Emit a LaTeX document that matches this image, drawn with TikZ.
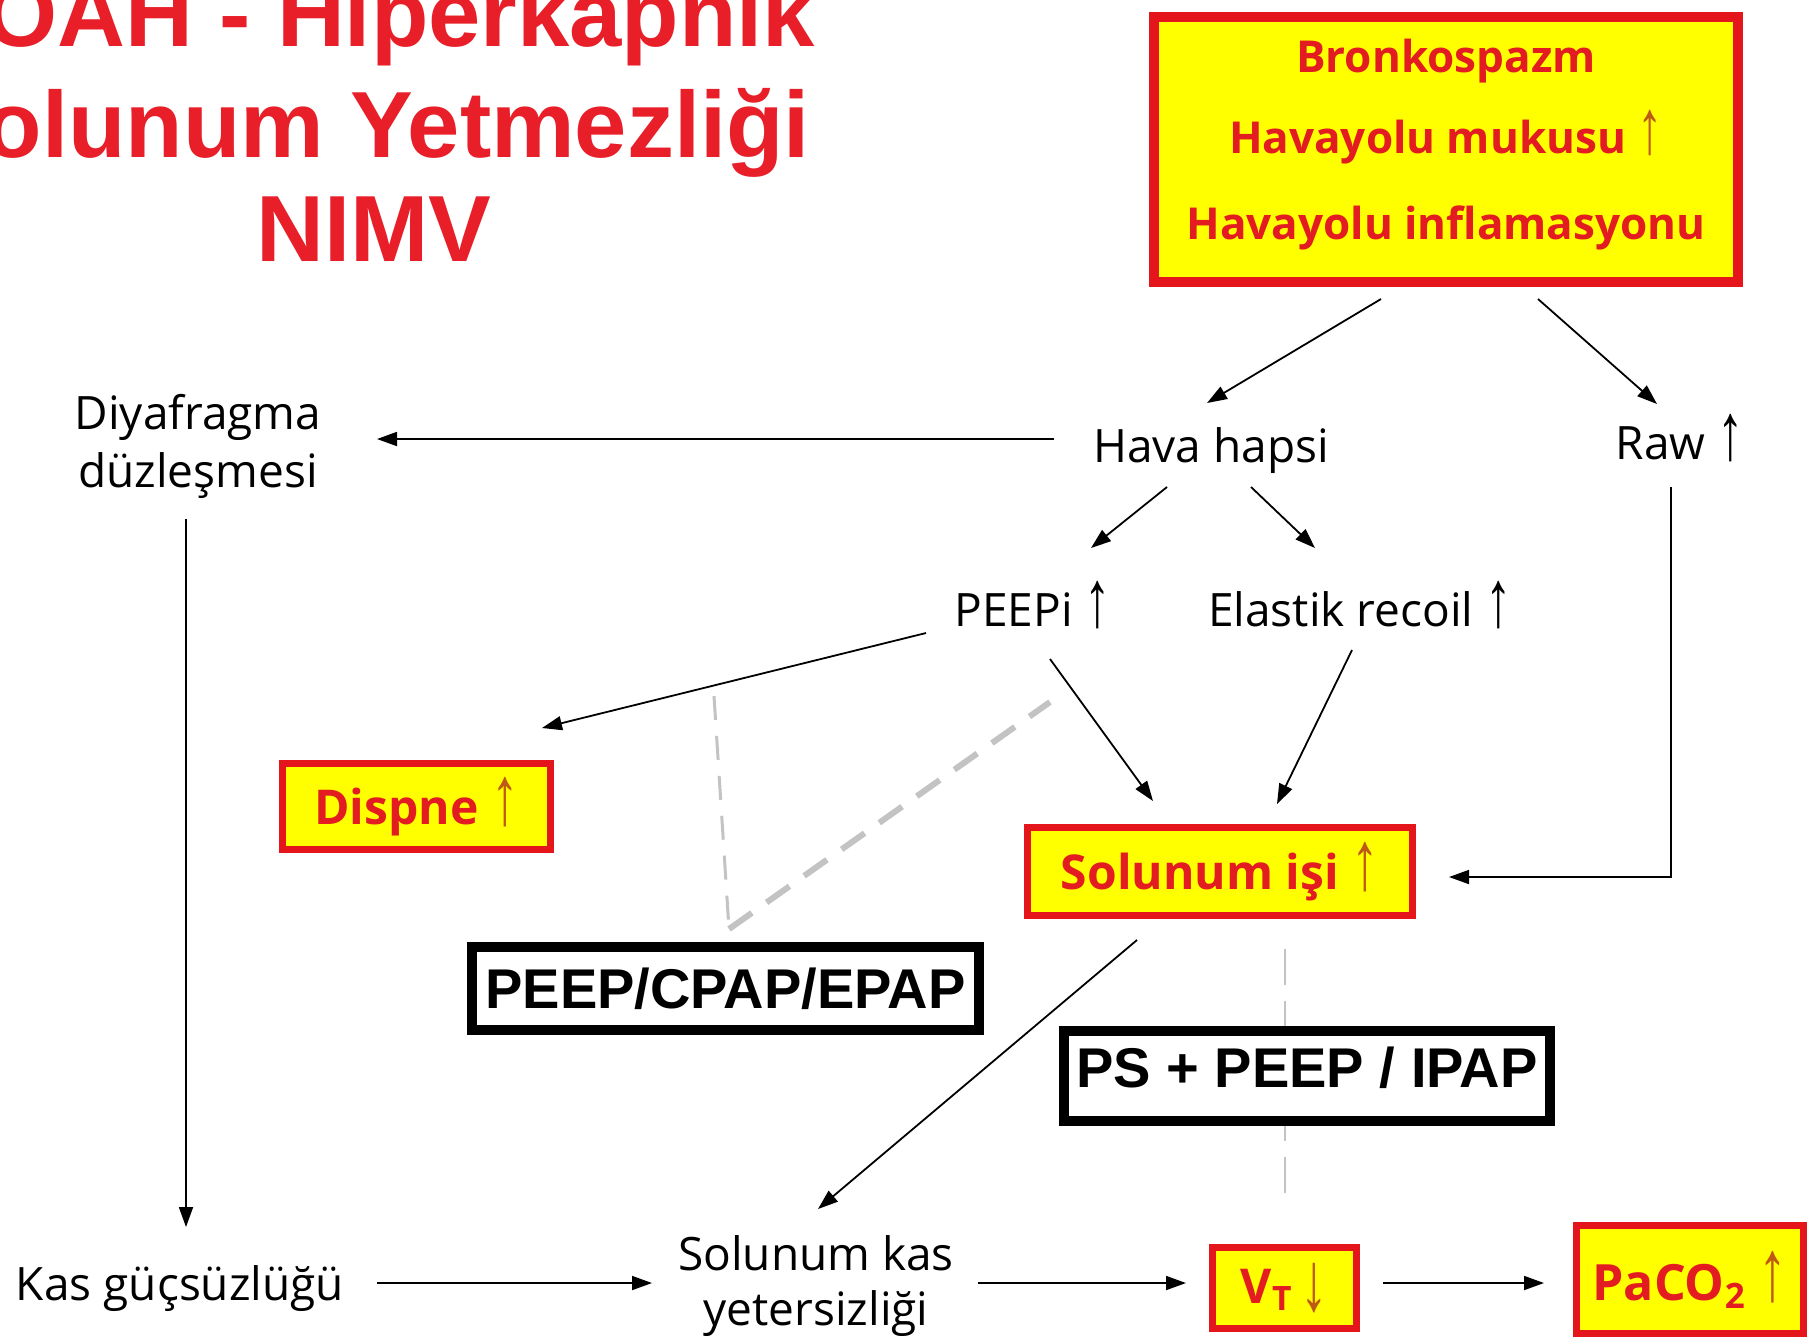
\documentclass[tikz,border=0pt]{standalone}
\usepackage{fontspec}
\usepackage{graphicx}
\setmainfont{Open Sans}
\newfontfamily\titlefont{Liberation Sans}
\newfontfamily\arrowfont{Liberation Sans}
\usetikzlibrary{arrows.meta,calc}
\definecolor{ylw}{RGB}{255,255,0}
\definecolor{bred}{RGB}{228,22,28}
\definecolor{tred}{RGB}{226,28,32}
\definecolor{ttl}{RGB}{232,30,40}
\definecolor{arrc}{RGB}{190,90,20}
\definecolor{dgrey}{RGB}{195,195,195}
\newcommand{\myup}{\scalebox{1.15}[1.75]{\arrowfont\char"2191}}
\newcommand{\mydown}{\raisebox{-0.15em}{\scalebox{1.15}[1.75]{\arrowfont\char"2193}}}
\tikzset{
  redbox/.style={draw=bred, fill=ylw, inner sep=0pt, line width=3.5pt, text=tred,
    font=\bfseries\fontsize{24}{28}\selectfont},
  redtxt/.style={inner sep=0pt, text=tred, font=\bfseries\fontsize{22}{26}\selectfont},
  blkbox/.style={draw=black, fill=white, line width=5pt, inner sep=0pt,
    font=\titlefont\bfseries\fontsize{28}{32}\selectfont},
  blktxt/.style={inner sep=0pt, font=\titlefont\bfseries\fontsize{28}{32}\selectfont},
  txt/.style={inner sep=0pt, font=\fontsize{23}{29}\selectfont, align=center},
  arr/.style={-{Triangle[length=10pt,width=7pt]}, line width=0.9pt},
  ttlstyle/.style={inner sep=0pt, text=ttl, font=\titlefont\bfseries\fontsize{47}{54}\selectfont, anchor=base},
  dsh/.style={dgrey}
}
\begin{document}
\begin{tikzpicture}[x=0.5pt,y=-0.5pt]
\useasboundingbox (0,0) rectangle (1820,1341);
\fill[white] (0,0) rectangle (1820,1341);

% title
\node[ttlstyle] (t1) at (366,46) {KOAH - Hiperkapnik};
\node[ttlstyle] (t2) at (366,157) {Solunum Yetmezliği};
\node[ttlstyle] (t3) at (374,261) {NIMV};

% dashed decoration
\draw[dsh, line width=1.5pt, dash pattern=on 12pt off 8pt] (714,696) -- (729,929);
\draw[dsh, line width=3pt, dash pattern=on 14pt off 9pt] (729,929) -- (1050,702);
\draw[dsh, line width=1pt, dash pattern=on 18pt off 8pt] (1285,949) -- (1285,1207);

% top box
\node[redbox, line width=5pt, minimum width=292pt, minimum height=132.5pt] (bronk) at (1446,149.5) {};
\node[redtxt, anchor=base] (bronk1) at (1446,72) {Bronkospazm};
\node[redtxt, anchor=base] (bronk2) at (1446,153) {Havayolu mukusu {\color{arrc}\myup}};
\node[redtxt, anchor=base] (bronk3) at (1446,239) {Havayolu inflamasyonu};

% plain text nodes
\node[txt, anchor=base] (hava) at (1211,462) {Hava hapsi};
\node[txt, anchor=base] (raw) at (1680,459) {Raw \myup};
\node[txt] (diyaf) at (198,446) {Diyafragma\\düzleşmesi};
\node[txt, anchor=base] (peepi) at (1033,626) {PEEPi \myup};
\node[txt, anchor=base] (elastik) at (1360,626) {Elastik recoil \myup};
\node[txt, anchor=base] (kas) at (180,1300) {Kas güçsüzlüğü};
\node[txt, font=\fontsize{23}{27.5}\selectfont] (solkas) at (816,1286) {Solunum kas\\yetersizliği};

% red boxes
\node[redbox, minimum width=134pt, minimum height=43pt] (dispne) at (416.5,806.5) {Dispne {\color{arrc}\myup}};
\node[redbox, minimum width=192.5pt, minimum height=44pt] (solis) at (1220,871.5) {Solunum işi {\color{arrc}\myup}};
\node[redbox, minimum width=72pt, minimum height=40.5pt] (vt) at (1284.5,1288) {V\textsubscript{T}\,{\color{arrc}\mydown}};
\node[redbox, minimum width=113.5pt, minimum height=54pt, font=\bfseries\fontsize{25}{29}\selectfont] (paco) at (1690,1279.5) {PaCO\textsubscript{2} {\color{arrc}\myup}};

% black boxes
\node[blkbox, minimum width=253.5pt, minimum height=41.5pt] (peepbox) at (725.5,988.5) {PEEP/CPAP/EPAP};
\node[blkbox, minimum width=243pt, minimum height=45pt] (psbox) at (1307,1076) {};
\node[blktxt] (pstxt) at (1307,1068) {PS + PEEP / IPAP};

% connectors
\draw[arr] ($(bronk)+(-65,149.5)$) -- ($(hava.base)+(-4,-59)$);
\draw[arr] ($(bronk)+(92,149.5)$) -- ($(raw.base)+(-23,-55)$);
\draw[arr] ($(hava.base)+(-157,-23)$) -- ($(diyaf)+(179,-7)$);
\draw[arr] ($(hava.base)+(-44,25)$) -- ($(peepi.base)+(58,-78)$);
\draw[arr] ($(hava.base)+(40,25)$) -- ($(elastik.base)+(-45,-78)$);
\draw[arr] ($(peepi.base)+(-107,7)$) -- ($(dispne)+(125.5,-78.5)$);
\draw[arr] ($(peepi.base)+(17,33)$) -- ($(solis)+(-67,-70.5)$);
\draw[arr] ($(elastik.base)+(-8,24)$) -- ($(solis)+(57,-67.5)$);
\draw[arr] ($(raw.base)+(-9,28)$) |- ($(solis)+(229,5.5)$);
\draw[arr] ($(diyaf)+(-12,73)$) -- ($(kas.base)+(6,-73)$);
\draw[arr] ($(solis)+(-83,68.5)$) -- ($(solkas)+(2,-77)$);
\draw[arr] ($(kas.base)+(197,-17)$) -- ($(solkas)+(-164,-3)$);
\draw[arr] ($(solkas)+(162,-3)$) -- ($(vt)+(-98.5,-5)$);
\draw[arr] ($(vt)+(98.5,-5)$) -- ($(paco)+(-146,3.5)$);
\end{tikzpicture}
\end{document}
